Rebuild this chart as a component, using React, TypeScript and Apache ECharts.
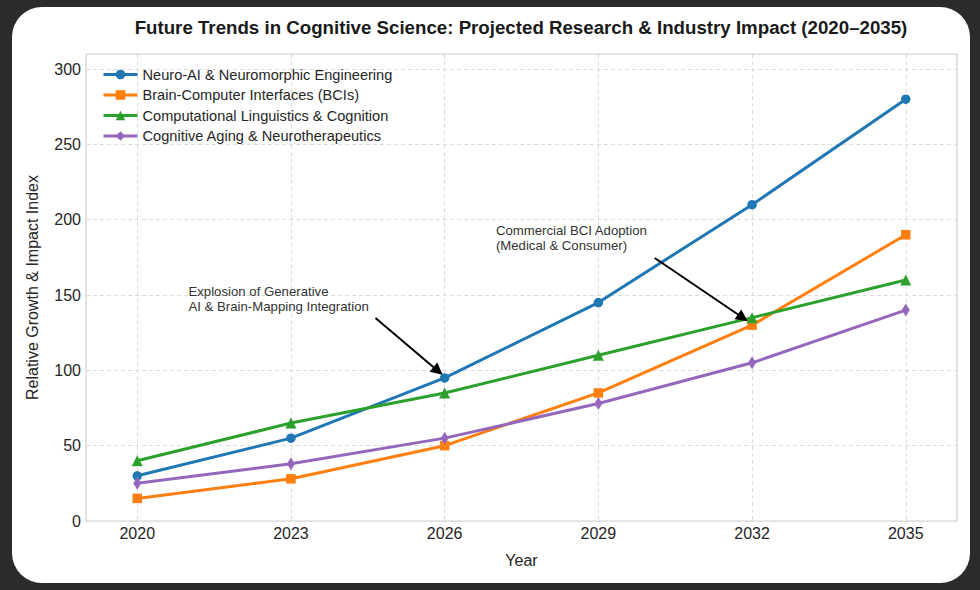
import React, { useEffect, useRef } from 'react';
import * as echarts from 'echarts';

const years = [2020, 2023, 2026, 2029, 2032, 2035];
const neuroAI = [30, 55, 95, 145, 210, 280];
const bci = [15, 28, 50, 85, 130, 190];
const compLing = [40, 65, 85, 110, 135, 160];
const aging = [25, 38, 55, 78, 105, 140];

const seriesNames = [
  'Neuro-AI & Neuromorphic Engineering',
  'Brain-Computer Interfaces (BCIs)',
  'Computational Linguistics & Cognition',
  'Cognitive Aging & Neurotherapeutics',
];
const seriesValues = [neuroAI, bci, compLing, aging];
const seriesColors = ['#1f77b4', '#ff7f0e', '#2ca02c', '#9467bd'];
const seriesSymbols = ['circle', 'rect', 'triangle', 'diamond'];
const seriesSymbolSizes: any[] = [9.5, 9.5, 11, [8, 13]];

const annotationTexts = [
  'Explosion of Generative\nAI & Brain-Mapping Integration',
  'Commercial BCI Adoption\n(Medical & Consumer)',
];
const annotationTextAt = [
  [2021, 157.5],
  [2027, 197.5],
];
const annotationArrowFrom = [
  [2024.65, 134.7],
  [2030.1, 174.6],
];
const annotationArrowTo = [
  [2025.87, 99.6],
  [2031.82, 134.9],
];

const FONT = '"Liberation Sans", Arial, "DejaVu Sans", sans-serif';

export default function App() {
  const ref = useRef<HTMLDivElement>(null);

  useEffect(() => {
    document.body.style.margin = '0';
    if (!ref.current) return;
    const chart = echarts.init(ref.current, null, { renderer: 'svg' });

    const series: any[] = seriesNames.map((name, i) => ({
      name,
      type: 'line',
      data: years.map((y, j) => [y, seriesValues[i][j]]),
      symbol: seriesSymbols[i],
      symbolSize: seriesSymbolSizes[i],
      lineStyle: { color: seriesColors[i], width: 3 },
      itemStyle: { color: seriesColors[i] },
      z: 3,
    }));

    series[0].markLine = {
      silent: true,
      animation: false,
      symbol: ['none', 'triangle'],
      symbolSize: 12,
      label: { show: false },
      lineStyle: { color: '#000000', width: 2, type: 'solid' },
      data: annotationArrowFrom.map((f, i) => [
        { coord: f },
        { coord: annotationArrowTo[i] },
      ]),
    };

    const option: any = {
      animation: false,
      backgroundColor: 'transparent',
      textStyle: { fontFamily: FONT },
      grid: {
        left: 86,
        right: 23,
        top: 54,
        bottom: 69,
        show: true,
        borderColor: '#d0d0d0',
        borderWidth: 1.2,
        backgroundColor: 'transparent',
      },
      legend: {
        data: seriesNames,
        orient: 'vertical',
        left: 97,
        top: 62,
        itemWidth: 34,
        itemHeight: 12,
        itemGap: 5.5,
        lineStyle: { width: 3 },
        textStyle: { fontSize: 14.6, color: '#262626', fontFamily: FONT },
      },
      xAxis: {
        type: 'value',
        min: 2019,
        max: 2036,
        name: 'Year',
        nameLocation: 'middle',
        nameGap: 31,
        nameTextStyle: { fontSize: 16, color: '#262626', fontFamily: FONT },
        axisLine: { show: false },
        axisTick: { show: false, customValues: years },
        axisLabel: {
          customValues: years,
          formatter: (v: number) => String(v),
          fontSize: 16,
          color: '#262626',
          margin: 4,
          fontFamily: FONT,
        },
        splitLine: {
          show: true,
          lineStyle: { color: '#dddddd', width: 1, type: [4, 3] },
        },
      },
      yAxis: {
        type: 'value',
        min: 0,
        max: 310,
        interval: 50,
        name: 'Relative Growth & Impact Index',
        nameLocation: 'middle',
        nameGap: 46,
        nameTextStyle: { fontSize: 16, color: '#262626', fontFamily: FONT },
        axisLine: { show: false },
        axisTick: { show: false },
        axisLabel: {
          fontSize: 16,
          color: '#262626',
          margin: 5,
          showMaxLabel: false,
          fontFamily: FONT,
        },
        splitLine: {
          show: true,
          lineStyle: { color: '#dddddd', width: 1, type: [4, 3] },
        },
      },
      series,
    };

    chart.setOption(option);

    const texts = annotationTexts.map((t, i) => {
      const p = chart.convertToPixel({ gridIndex: 0 }, annotationTextAt[i]) as number[];
      return {
        type: 'text',
        x: p[0],
        y: p[1],
        z: 10,
        style: {
          text: t,
          font: `13.2px ${FONT}`,
          fill: '#333333',
          lineHeight: 15,
          textAlign: 'left',
          textVerticalAlign: 'top',
        },
      };
    });

    chart.setOption({
      graphic: [
        {
          type: 'text',
          x: 521,
          y: 27,
          z: 10,
          style: {
            text: 'Future Trends in Cognitive Science: Projected Research & Industry Impact (2020\u20132035)',
            font: `bold 18.7px ${FONT}`,
            fill: '#1a1a1a',
            textAlign: 'center',
            textVerticalAlign: 'middle',
          },
        },
        ...texts,
      ],
    });

    return () => {
      chart.dispose();
    };
  }, []);

  return (
    <div
      style={{
        position: 'fixed',
        left: 0,
        top: 0,
        width: 980,
        height: 590,
        background: '#2b2b2b',
      }}
    >
      <div
        style={{
          position: 'absolute',
          left: 12,
          top: 7,
          width: 958,
          height: 576,
          background: '#ffffff',
          borderRadius: 30,
        }}
      />
      <div
        ref={ref}
        style={{ position: 'absolute', left: 0, top: 0, width: 980, height: 590 }}
      />
    </div>
  );
}
